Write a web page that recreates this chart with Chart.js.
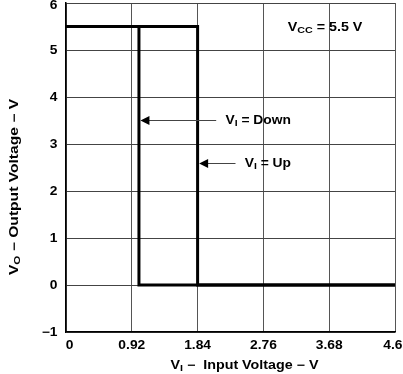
<!DOCTYPE html>
<html><head><meta charset="utf-8">
<script src="https://cdn.jsdelivr.net/npm/chart.js@4/dist/chart.umd.min.js"></script>
<style>html,body{margin:0;padding:0;background:#fff}</style>
</head><body>
<canvas id="c" width="403" height="374"></canvas>
<script>
const xTicks=[0,0.92,1.84,2.76,3.68,4.6];
const xTickLabels=['0','0.92','1.84','2.76','3.68','4.6'];
const yTicks=[-1,0,1,2,3,4,5,6];
const yTickLabels=['\u22121','0','1','2','3','4','5','6'];
const downX=[0,1.02,1.02,4.6];
const downY=[5.5,5.5,0,0];
const upX=[0,1.84,1.84,4.6];
const upY=[5.5,5.5,0,0];
// annotation arrows: tip x, tail x, y, label start x (data units)
const arrowTipX=[1.02,1.84];
const arrowTailX=[2.1,2.37];
const arrowY=[3.5,2.6];
const arrowLabelX=[2.23,2.5];
const arrowLabelSub=['I','I'];
const arrowLabelText=[' = Down',' = Up'];
const vccLabel=[{t:'V'},{t:'CC',sub:true},{t:' = 5.5 V'}];
const vccPos={x:3.1,y:5.47};
const xTitle=[{t:'V'},{t:'I',sub:true},{t:' \u2212  Input Voltage \u2212 V'}];
const yTitle=[{t:'V'},{t:'O',sub:true},{t:' \u2212 Output Voltage \u2212 V'}];

const F='"Liberation Sans", Arial, sans-serif';
const mainFont='bold 12px '+F, subFont='bold 9px '+F;
const SX=1.15;

function richWidth(ctx,segs,sx){let w=0;for(const s of segs){ctx.font=s.sub?subFont:mainFont;w+=ctx.measureText(s.t).width;}return w*sx;}
function drawRich(ctx,segs,x,y,sx){ // left edge x, middle y
  sx=sx||SX;
  ctx.save();ctx.translate(x,y);ctx.scale(sx,1);
  ctx.textBaseline='middle';ctx.textAlign='left';ctx.fillStyle='#000';
  let cx=0;
  for(const s of segs){ctx.font=s.sub?subFont:mainFont;ctx.fillText(s.t,cx,s.sub?3:0);cx+=ctx.measureText(s.t).width;}
  ctx.restore();
}
function drawLabel(ctx,t,x,y,align){
  ctx.save();ctx.translate(x,y);ctx.scale(SX,1);
  ctx.font=mainFont;ctx.textBaseline='middle';ctx.textAlign=align;ctx.fillStyle='#000';
  ctx.fillText(t,0,0);ctx.restore();
}

const overlay={id:'overlay',afterDraw(chart){
  const ctx=chart.ctx,xs=chart.scales.x,ys=chart.scales.y,W=chart.width;
  ctx.save();
  // tick labels
  xTicks.forEach((v,i)=>{
    ctx.font=mainFont;const hw=ctx.measureText(xTickLabels[i]).width*SX/2;
    let cx=xs.getPixelForValue(v);
    cx=Math.max(cx,hw+66.5);cx=Math.min(cx,W-hw-0.5);
    if(i===0)cx=xs.getPixelForValue(v)+3.5;
    drawLabel(ctx,xTickLabels[i],cx,346,'center');
  });
  yTicks.forEach((v,i)=>drawLabel(ctx,yTickLabels[i],57.5,Math.max(ys.getPixelForValue(v)+0.5,5.5),'right'));
  for(let i=0;i<arrowTipX.length;i++){
    const tx=xs.getPixelForValue(arrowTipX[i])+1.5, tl=xs.getPixelForValue(arrowTailX[i]), py=Math.round(ys.getPixelForValue(arrowY[i]))+0.5;
    ctx.strokeStyle='#444';ctx.lineWidth=1;
    ctx.beginPath();ctx.moveTo(tx+6,py);ctx.lineTo(tl,py);ctx.stroke();
    ctx.fillStyle='#000';ctx.beginPath();ctx.moveTo(tx,py);ctx.lineTo(tx+9,py-4.5);ctx.lineTo(tx+9,py+4.5);ctx.closePath();ctx.fill();
    drawRich(ctx,[{t:'V'},{t:arrowLabelSub[i],sub:true},{t:arrowLabelText[i]}],xs.getPixelForValue(arrowLabelX[i]),py);
  }
  drawRich(ctx,vccLabel,xs.getPixelForValue(vccPos.x),ys.getPixelForValue(vccPos.y),1.19);
  // x title
  drawRich(ctx,xTitle,170.5,366,1.19);
  // y title rotated
  const ysx=1.3;
  const yw=richWidth(ctx,yTitle,ysx);
  ctx.translate(15,187);ctx.rotate(-Math.PI/2);
  drawRich(ctx,yTitle,-yw/2,0,ysx);
  ctx.restore();
}};

new Chart(document.getElementById('c'),{
  type:'scatter',
  data:{datasets:[
    {label:'VI = Down',data:downX.map((x,i)=>({x,y:downY[i]})),showLine:true,borderColor:'#000',borderWidth:3,pointRadius:0,tension:0,fill:false},
    {label:'VI = Up',data:upX.map((x,i)=>({x,y:upY[i]})),showLine:true,borderColor:'#000',borderWidth:3,pointRadius:0,tension:0,fill:false}
  ]},
  options:{
    responsive:false,animation:false,devicePixelRatio:1,
    layout:{padding:{left:0,right:8,top:3,bottom:0}},
    plugins:{legend:{display:false},tooltip:{enabled:false}},
    scales:{
      x:{type:'linear',min:0,max:4.6,
        afterBuildTicks:s=>{s.ticks=xTicks.map(v=>({value:v}));},
        afterFit:s=>{s.height=42;s.paddingLeft=0;s.paddingRight=0;},
        ticks:{display:false},
        grid:{color:'#555',lineWidth:1,drawTicks:false},
        border:{color:'#000',width:1.5}},
      y:{type:'linear',min:-1,max:6,
        afterBuildTicks:s=>{s.ticks=yTicks.map(v=>({value:v}));},
        afterFit:s=>{s.width=66;s.paddingTop=0;s.paddingBottom=0;},
        ticks:{display:false},
        grid:{color:'#444',lineWidth:1,drawTicks:false},
        border:{color:'#000',width:1.5}}
    }
  },
  plugins:[overlay]
});
</script>
</body></html>
